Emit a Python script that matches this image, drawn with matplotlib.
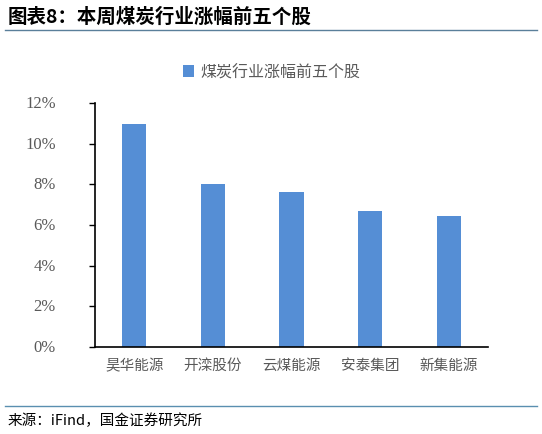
import numpy as np
import matplotlib
matplotlib.use("Agg")
from matplotlib import pyplot as plt

plt.rcParams['font.family'] = ['Noto Sans CJK SC', 'DejaVu Sans']

stocks = ['昊华能源', '开滦股份', '云煤能源', '安泰集团', '新集能源']
gains = [10.95, 8.0, 7.62, 6.68, 6.42]
yticks = [0, 2, 4, 6, 8, 10, 12]

W, H = 542, 435
fig = plt.figure(figsize=(W / 100, H / 100), dpi=100)

# axes box in pixel coordinates of the reference
left, right, top, bottom = 95, 488, 104, 348
ax = fig.add_axes([left / W, 1 - bottom / H, (right - left) / W, (bottom - top) / H])

x = np.arange(len(stocks))
ax.bar(x, gains, width=0.31, color='#558ed5', label='煤炭行业涨幅前五个股')
ax.set_xlim(-0.5, len(stocks) - 0.5)
ax.set_ylim(0, 12)
ax.tick_params(axis='y', length=4, width=1, color='black', labelleft=False)
ax.tick_params(axis='x', length=0, pad=8)
ax.set_yticks(yticks)
# y labels drawn as plain texts so the serif face sticks
for v in yticks:
    ax.text(-0.1, v, f'{v}%', transform=ax.get_yaxis_transform(), ha='right', va='center',
            fontfamily='Liberation Serif', fontsize=12, color='#595959')
ax.set_xticks(x)
ax.set_xticklabels(stocks, fontsize=10.5, color='#595959')

for s in ['top', 'right']:
    ax.spines[s].set_visible(False)
ax.spines['left'].set_color('black')
ax.spines['bottom'].set_color('black')
ax.spines['left'].set_linewidth(1.2)
ax.spines['bottom'].set_linewidth(1.2)

leg = fig.legend(loc='center', bbox_to_anchor=(272 / W, 1 - 73 / H), frameon=False,
                 fontsize=11.5, handlelength=0.7, handleheight=0.7, handletextpad=0.4)
for t in leg.get_texts():
    t.set_color('#595959')

fig.text(8 / W, 1 - 17 / H, '图表8：本周煤炭行业涨幅前五个股', fontsize=14,
         fontweight='bold', va='center', ha='left', color='black')
fig.add_artist(plt.Line2D([5 / W, 537 / W], [1 - 31 / H] * 2, color='#5a7f9a', lw=1))
fig.add_artist(plt.Line2D([5 / W, 537 / W], [1 - 407 / H] * 2, color='#5a8fb0', lw=1))
fig.text(8 / W, 1 - 421 / H, '来源：iFind，国金证券研究所', fontsize=10.5,
         va='center', ha='left', color='black')

fig.savefig('out.png', dpi=100)
